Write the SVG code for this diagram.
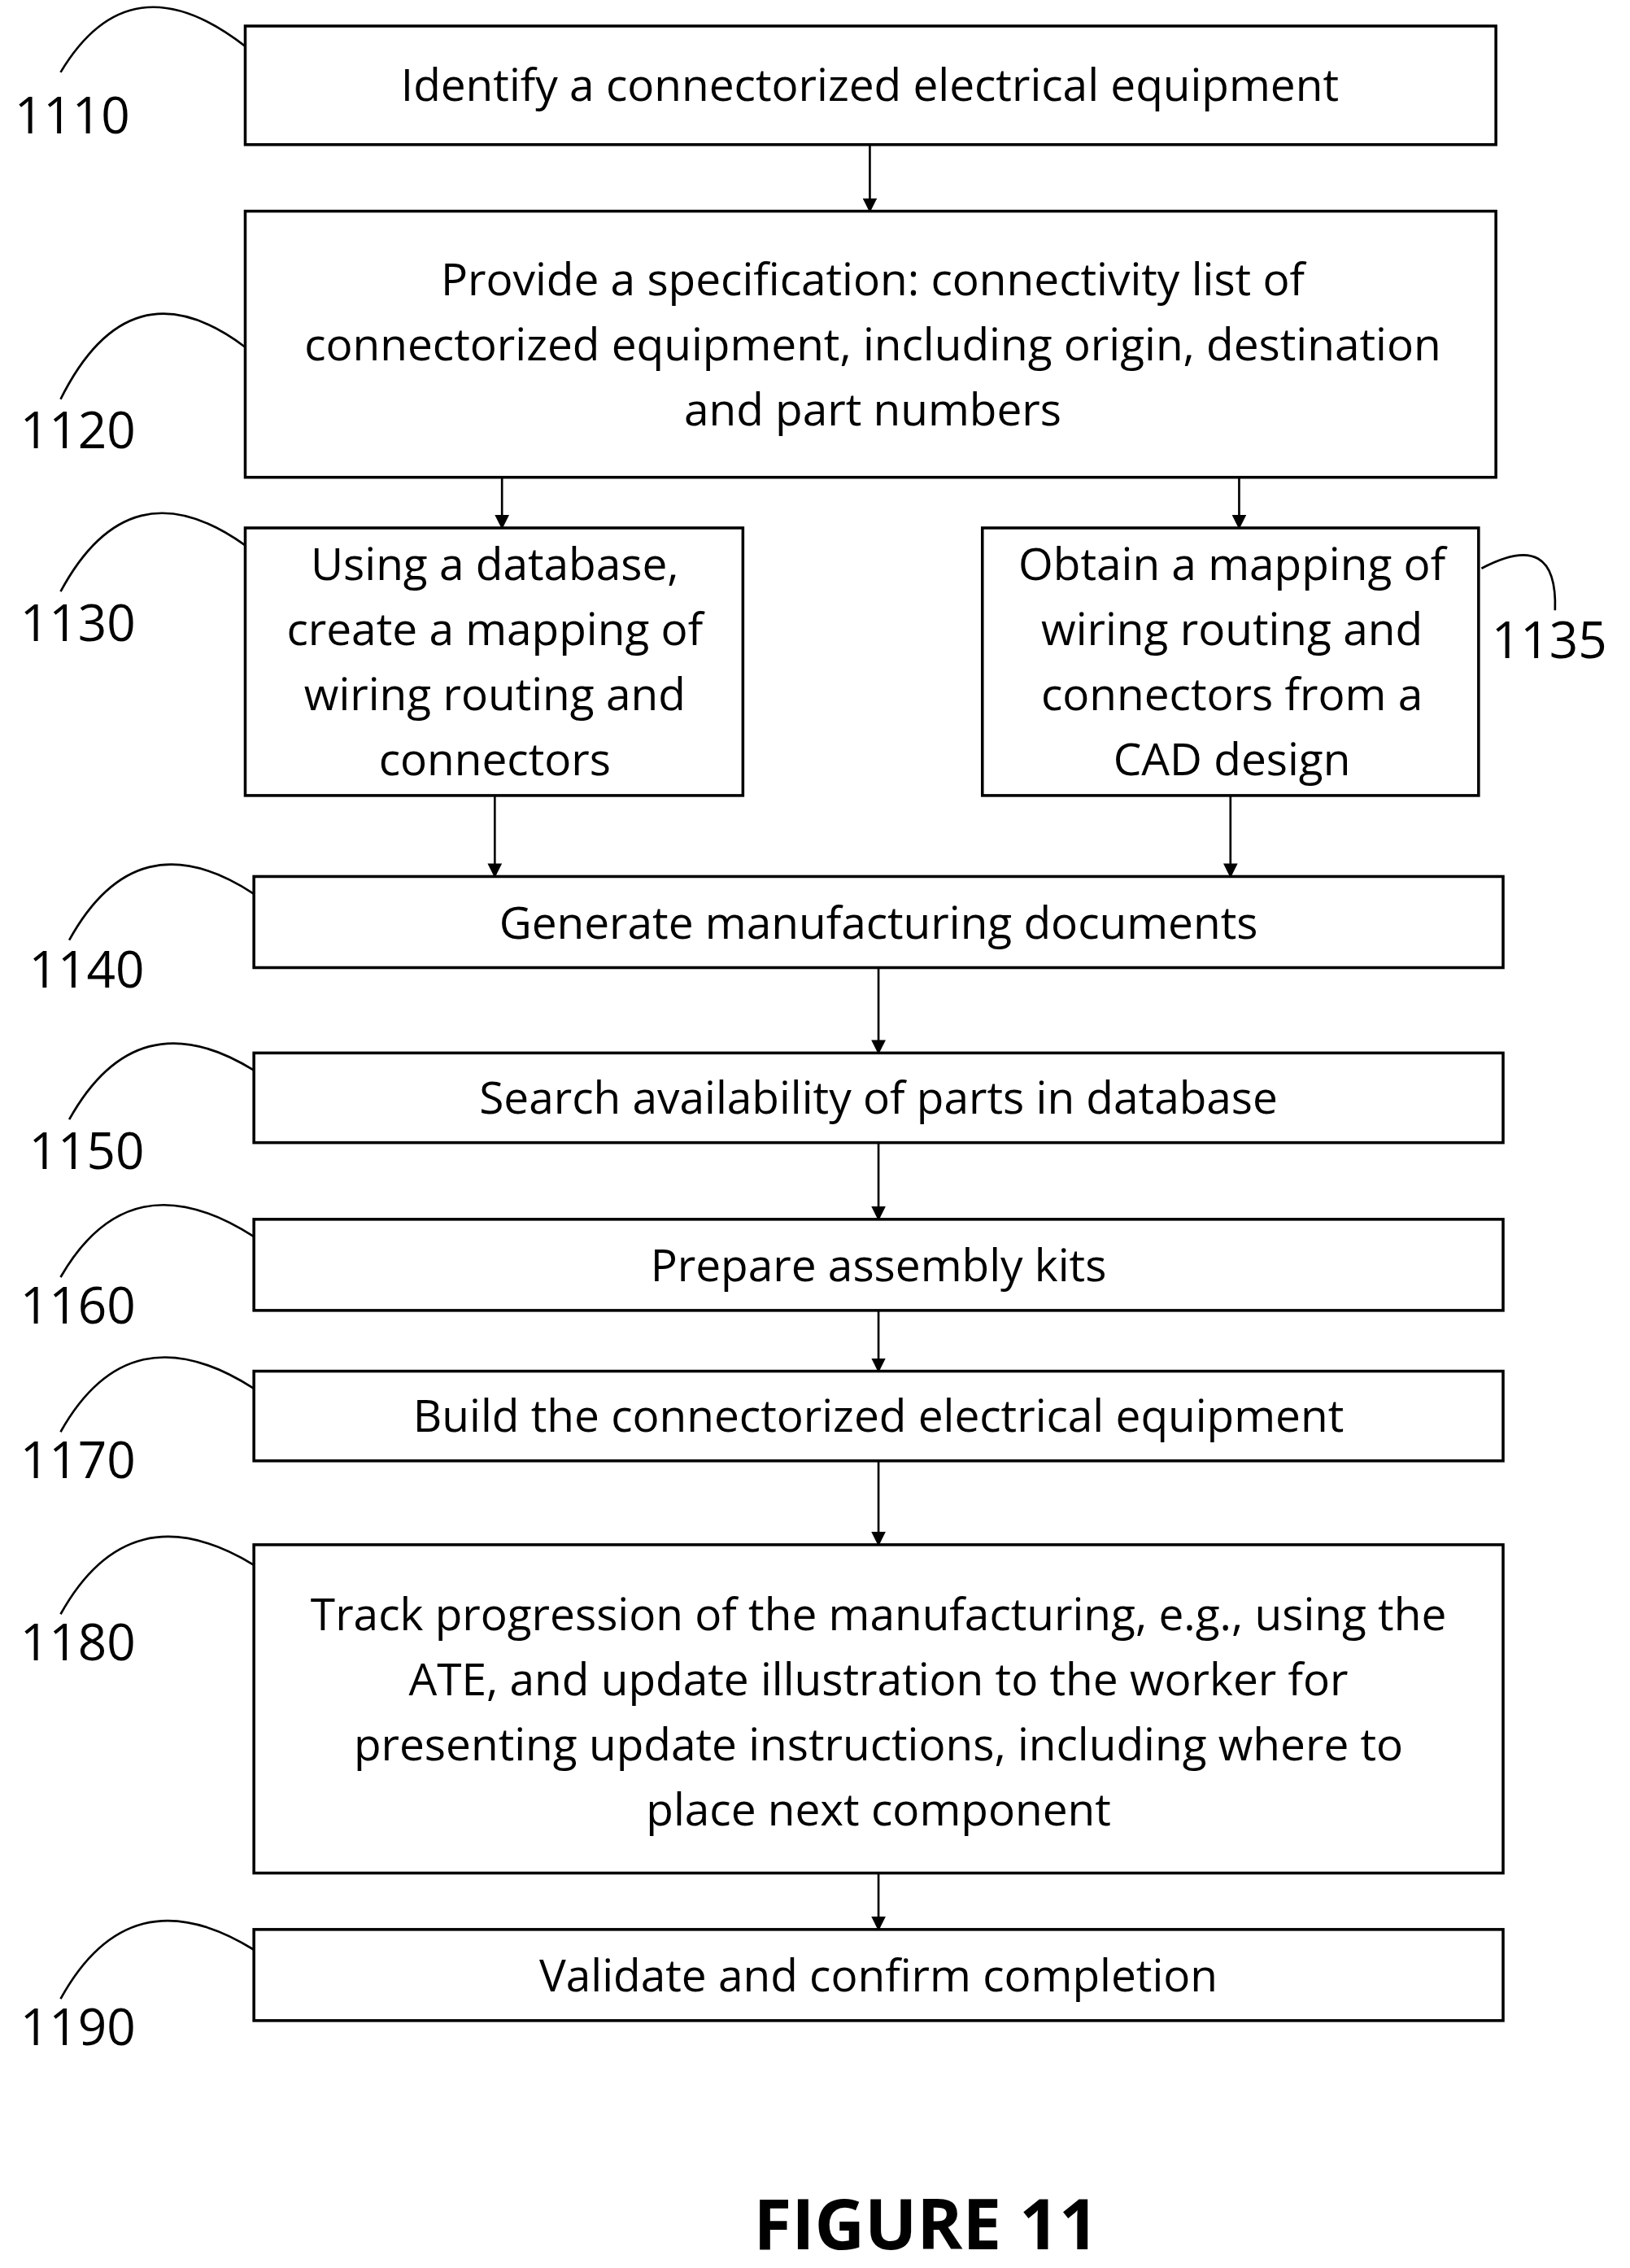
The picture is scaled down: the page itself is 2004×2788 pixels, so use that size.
<svg xmlns="http://www.w3.org/2000/svg" width="2004" height="2788" viewBox="0 0 2004 2788">
<defs>
<marker id="ah" markerWidth="10" markerHeight="10" refX="9" refY="5" orient="auto" markerUnits="userSpaceOnUse"><path d="M0,0 L10,5 L0,10 z" fill="#000"/></marker>
<style>
.b{fill:#fff;stroke:#000;stroke-width:2}
.t{font-family:"Open Sans","Liberation Sans",sans-serif;font-size:31px;text-anchor:middle;fill:#000}
.l{font-family:"Open Sans","Liberation Sans",sans-serif;font-size:35px;fill:#000}
.c{fill:none;stroke:#000;stroke-width:1.5}
.a{stroke:#000;stroke-width:1.5;marker-end:url(#ah)}
</style>
</defs>
<rect width="2004" height="2788" fill="#fff"/>
<g transform="scale(1.7735,1.778)">
<g id="connectors">
<line class="a" x1="603" y1="100" x2="603" y2="146"/>
<line class="a" x1="348" y1="330" x2="348" y2="365"/>
<line class="a" x1="859" y1="330" x2="859" y2="365"/>
<line class="a" x1="343" y1="550" x2="343" y2="606"/>
<line class="a" x1="853" y1="550" x2="853" y2="606"/>
<line class="a" x1="609" y1="669" x2="609" y2="728"/>
<line class="a" x1="609" y1="790" x2="609" y2="843"/>
<line class="a" x1="609" y1="906" x2="609" y2="948"/>
<line class="a" x1="609" y1="1010" x2="609" y2="1068"/>
<line class="a" x1="609" y1="1295" x2="609" y2="1334"/>
</g>
<g id="n1110"><rect class="b" x="170" y="18" width="867" height="82"/><text class="t" x="603" y="70">Identify a connectorized electrical equipment</text>
<path class="c" d="M42,50 Q90,-30 170,32"/><text class="l" x="10" y="92">1110</text></g>
<g id="n1120"><rect class="b" x="170" y="146" width="867" height="184"/>
<text class="t" x="605" y="204">Provide a specification:  connectivity list of</text>
<text class="t" x="605" y="249">connectorized equipment, including origin, destination</text>
<text class="t" x="605" y="294">and part numbers</text>
<path class="c" d="M42,276 Q90,180 170,240"/><text class="l" x="14" y="310">1120</text></g>
<g id="n1130"><rect class="b" x="170" y="365" width="345" height="185"/>
<text class="t" x="343" y="401">Using a database,</text><text class="t" x="343" y="446">create a mapping of</text><text class="t" x="343" y="491">wiring routing and</text><text class="t" x="343" y="536">connectors</text>
<path class="c" d="M42,409 Q90,320 170,377"/><text class="l" x="14" y="443">1130</text></g>
<g id="n1135"><rect class="b" x="681" y="365" width="344" height="185"/>
<text class="t" x="854" y="401">Obtain a mapping of</text><text class="t" x="854" y="446">wiring routing and</text><text class="t" x="854" y="491">connectors from a</text><text class="t" x="854" y="536">CAD design</text>
<path class="c" d="M1027,393 Q1080,365 1078,422"/><text class="l" x="1034" y="455">1135</text></g>
<g id="n1140"><rect class="b" x="176" y="606" width="866" height="63"/><text class="t" x="609" y="649">Generate manufacturing documents</text>
<path class="c" d="M48,650 Q95,565 176,618"/><text class="l" x="20" y="683">1140</text></g>
<g id="n1150"><rect class="b" x="176" y="728" width="866" height="62"/><text class="t" x="609" y="770">Search availability of parts in database</text>
<path class="c" d="M48,774 Q95,690 176,740"/><text class="l" x="20" y="808">1150</text></g>
<g id="n1160"><rect class="b" x="176" y="843" width="866" height="63"/><text class="t" x="609" y="886">Prepare assembly kits</text>
<path class="c" d="M42,883 Q90,800 176,855"/><text class="l" x="14" y="915">1160</text></g>
<g id="n1170"><rect class="b" x="176" y="948" width="866" height="62"/><text class="t" x="609" y="990">Build the connectorized electrical equipment</text>
<path class="c" d="M42,990 Q90,905 176,960"/><text class="l" x="14" y="1022">1170</text></g>
<g id="n1180"><rect class="b" x="176" y="1068" width="866" height="227"/>
<text class="t" x="609" y="1127">Track progression of the manufacturing, e.g., using the</text>
<text class="t" x="609" y="1172">ATE, and update illustration to the worker for</text>
<text class="t" x="609" y="1217">presenting update instructions, including where to</text>
<text class="t" x="609" y="1262">place next component</text>
<path class="c" d="M42,1116 Q90,1030 176,1082"/><text class="l" x="14" y="1148">1180</text></g>
<g id="n1190"><rect class="b" x="176" y="1334" width="866" height="63"/><text class="t" x="609" y="1377">Validate and confirm completion</text>
<path class="c" d="M42,1382 Q90,1295 176,1348"/><text class="l" x="14" y="1414">1190</text></g>
<text x="642" y="1555" style="font-family:'Open Sans','Liberation Sans',sans-serif;font-size:48px;font-weight:bold;text-anchor:middle">FIGURE 11</text>
</g>
</svg>
